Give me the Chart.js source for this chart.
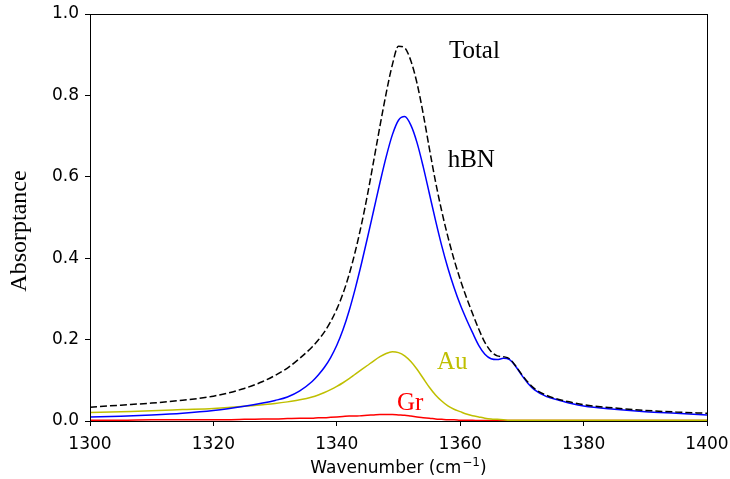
<!DOCTYPE html>
<html>
<head>
<meta charset="utf-8">
<script src="https://cdn.jsdelivr.net/npm/chart.js@4"></script>
<style>
  html, body { margin: 0; padding: 0; background: #fff; }
  #wrap { width: 730px; height: 479px; }
</style>
</head>
<body>
<div id="wrap"><canvas id="absChart" width="730" height="479"></canvas></div>
<script>
// datos
const wavenumber = [1300, 1305, 1310, 1315, 1320, 1325, 1328, 1330, 1332, 1334,
    1336, 1337, 1338, 1339, 1340, 1341, 1342, 1343, 1344, 1345, 1346, 1347, 1348, 1349, 1350,
    1351, 1352, 1353, 1354, 1355, 1356, 1357, 1358, 1359, 1360, 1361, 1362, 1363, 1364, 1365,
    1366, 1367, 1368, 1369, 1370, 1371, 1372, 1374, 1376, 1378, 1380, 1385, 1390, 1395, 1400];
const total = [0.034, 0.039, 0.044, 0.051, 0.061, 0.080, 0.097, 0.112, 0.130, 0.154,
    0.182, 0.199, 0.219, 0.244, 0.275, 0.313, 0.360, 0.417, 0.483, 0.558, 0.641, 0.725, 0.805, 0.875, 0.921,
    0.917, 0.885, 0.830, 0.755, 0.670, 0.588, 0.516, 0.453, 0.397, 0.348, 0.304, 0.264, 0.226, 0.193, 0.171,
    0.160, 0.158, 0.153, 0.135, 0.114, 0.095, 0.080, 0.063, 0.053, 0.046, 0.040, 0.032, 0.026, 0.022, 0.019];
const hbn = [0.0096, 0.0118, 0.0148, 0.019, 0.0256, 0.036, 0.044, 0.0505, 0.059, 0.074,
    0.097, 0.113, 0.132, 0.156, 0.186, 0.224, 0.271, 0.326, 0.387, 0.452, 0.519, 0.586, 0.649, 0.703, 0.739,
    0.748, 0.727, 0.684, 0.625, 0.559, 0.493, 0.431, 0.376, 0.328, 0.286, 0.250, 0.217, 0.186, 0.164, 0.153,
    0.151, 0.154, 0.151, 0.134, 0.112, 0.092, 0.077, 0.060, 0.051, 0.043, 0.037, 0.029, 0.023, 0.019, 0.015];
const au = [0.021, 0.023, 0.025, 0.028, 0.031, 0.036, 0.040, 0.043, 0.047, 0.052,
    0.059, 0.064, 0.070, 0.077, 0.085, 0.094, 0.104, 0.115, 0.126, 0.137, 0.148, 0.158, 0.166, 0.170, 0.168,
    0.160, 0.146, 0.127, 0.105, 0.083, 0.064, 0.049, 0.037, 0.029, 0.023, 0.017, 0.013, 0.010, 0.007, 0.005,
    0.004, 0.003, 0.002, 0.002, 0.002, 0.002, 0.002, 0.002, 0.002, 0.002, 0.002, 0.002, 0.002, 0.002, 0.002];
const gr = [0.002, 0.002, 0.003, 0.003, 0.003, 0.004, 0.005, 0.005, 0.006, 0.007,
    0.007, 0.008, 0.008, 0.009, 0.010, 0.011, 0.012, 0.012, 0.013, 0.014, 0.015, 0.016, 0.016, 0.016, 0.015,
    0.014, 0.012, 0.010, 0.008, 0.007, 0.005, 0.004, 0.003, 0.003, 0.002, 0.002, 0.002, 0.001, 0.001, 0.001,
    0.001, 0.001, 0.001, 0.001, 0.001, 0.001, 0.001, 0.001, 0.001, 0.001, 0.001, 0.001, 0.001, 0.001, 0.001];

// etiquetas de las curvas (posicion en unidades de datos)
const curveLabels = [
    { text: 'Total', x: 1362.3, y: 0.909, color: '#000000' },
    { text: 'hBN', x: 1361.8, y: 0.639, color: '#000000' },
    { text: 'Au', x: 1358.7, y: 0.145, color: '#bfbf00' },
    { text: 'Gr', x: 1351.9, y: 0.044, color: '#ff0000' }
];

const toPoints = arr => wavenumber.map((w, i) => ({ x: w, y: arr[i] }));

const serif = '"Liberation Serif", "DejaVu Serif", serif';
const sans = '"DejaVu Sans", sans-serif';

// marco + textos
const framePlugin = {
    id: 'frame',
    afterDraw(chart) {
        const { ctx, chartArea, scales } = chart;
        ctx.save();
        ctx.strokeStyle = '#000';
        ctx.lineWidth = 1;
        ctx.strokeRect(chartArea.left + 0.5, chartArea.top + 0.5,
            chartArea.right - chartArea.left, chartArea.bottom - chartArea.top);

        ctx.textAlign = 'center';
        ctx.textBaseline = 'middle';
        ctx.font = '25px ' + serif;
        curveLabels.forEach(l => {
            ctx.fillStyle = l.color;
            ctx.fillText(l.text, scales.x.getPixelForValue(l.x), scales.y.getPixelForValue(l.y));
        });

        // titulo eje x con superindice
        ctx.fillStyle = '#000';
        ctx.textAlign = 'left';
        ctx.textBaseline = 'alphabetic';
        const mainFont = '17px ' + sans;
        const supFont = '12px ' + sans;
        const partA = 'Wavenumber (cm', partSup = '\u22121', partB = ')';
        ctx.font = mainFont;
        const wA = ctx.measureText(partA).width, wB = ctx.measureText(partB).width;
        ctx.font = supFont;
        const wS = ctx.measureText(partSup).width + 1;
        let x0 = (chartArea.left + chartArea.right) / 2 - (wA + wS + wB) / 2;
        const base = 473;
        ctx.font = mainFont;
        ctx.fillText(partA, x0, base);
        ctx.font = supFont;
        ctx.fillText(partSup, x0 + wA + 1, base - 7);
        ctx.font = mainFont;
        ctx.fillText(partB, x0 + wA + wS, base);

        ctx.textAlign = 'center';
        ctx.textBaseline = 'middle';
        ctx.translate(20, 231);
        ctx.rotate(-Math.PI / 2);
        ctx.font = '24px ' + serif;
        ctx.fillText('Absorptance', 0, 0);
        ctx.restore();
    }
};

const lineStyle = { borderWidth: 1.5, pointRadius: 0, fill: false, cubicInterpolationMode: 'monotone' };

new Chart(document.getElementById('absChart').getContext('2d'), {
    type: 'line',
    data: {
        datasets: [
            Object.assign({ label: 'Total', data: toPoints(total), borderColor: '#000000', borderDash: [7, 3] }, lineStyle),
            Object.assign({ label: 'hBN', data: toPoints(hbn), borderColor: '#0000ff' }, lineStyle),
            Object.assign({ label: 'Au', data: toPoints(au), borderColor: '#bfbf00' }, lineStyle),
            Object.assign({ label: 'Gr', data: toPoints(gr), borderColor: '#ff0000' }, lineStyle)
        ]
    },
    options: {
        responsive: false,
        animation: false,
        layout: { padding: { top: 14, right: 23, left: 0, bottom: 0 } },
        plugins: { legend: { display: false }, tooltip: { enabled: false } },
        scales: {
            x: {
                type: 'linear',
                min: 1300,
                max: 1400,
                afterFit: s => { s.height = 58; s.paddingRight = 0; s.paddingLeft = 0; },
                grid: { display: true, drawOnChartArea: false, drawTicks: true, tickLength: 5, color: '#000' },
                border: { display: true, color: '#000' },
                ticks: { stepSize: 20, color: '#000', font: { family: sans, size: 17 }, padding: 8, maxRotation: 0,
                    callback: v => String(v) }
            },
            y: {
                min: 0,
                max: 1,
                afterFit: s => { s.width = 90; s.paddingTop = 0; s.paddingBottom = 0; },
                grid: { display: true, drawOnChartArea: false, drawTicks: true, tickLength: 5, color: '#000' },
                border: { display: true, color: '#000' },
                ticks: { stepSize: 0.2, color: '#000', font: { family: sans, size: 17 }, padding: 6,
                    callback: v => v.toFixed(1) }
            }
        }
    },
    plugins: [framePlugin]
});
</script>
</body>
</html>
